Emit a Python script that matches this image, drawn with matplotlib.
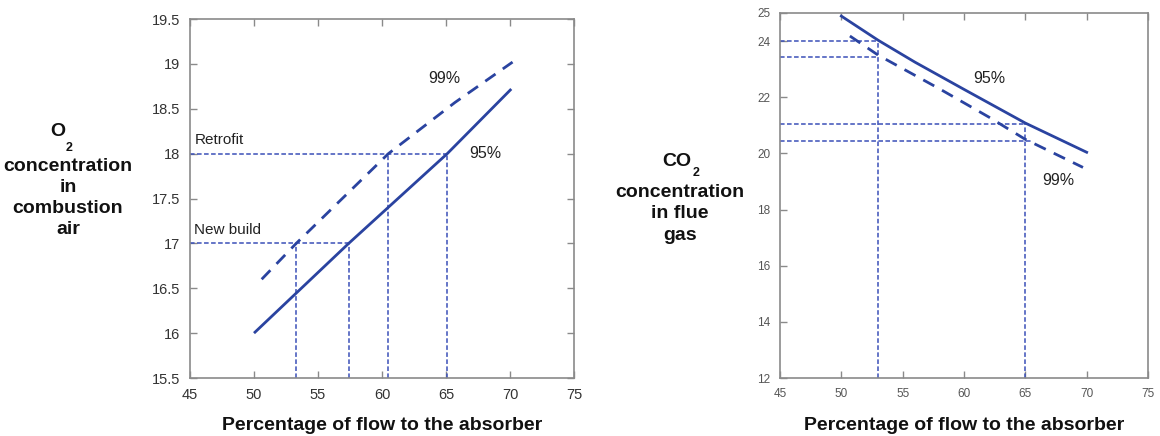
import matplotlib.pyplot as plt

plt.rcParams['font.family'] = ['Liberation Sans', 'DejaVu Sans']

# ---- data ----
# left: O2 concentration in combustion air
o2_x95 = [50.0, 57.4, 65.1, 70.1]
o2_y95 = [16.0, 17.0, 18.0, 18.72]
o2_x99 = [50.6, 53.3, 60.5, 65.7, 70.2]
o2_y99 = [16.6, 17.0, 18.0, 18.57, 19.02]
o2_levels = [18.0, 17.0]            # Retrofit, New build
o2_level_names = ['Retrofit', 'New build']
o2_cross_99 = [60.5, 53.3]
o2_cross_95 = [65.1, 57.4]

# right: CO2 concentration in flue gas
co2_x95 = [50.0, 53.0, 56.0, 60.0, 65.0, 70.0]
co2_y95 = [24.89, 24.03, 23.25, 22.28, 21.08, 20.04]
co2_x99 = [50.7, 53.0, 58.0, 62.0, 65.0, 69.7]
co2_y99 = [24.18, 23.5, 22.3, 21.3, 20.5, 19.5]
co2_marks_x = [53.0, 65.0]
co2_marks_95 = [24.0, 21.05]
co2_marks_99 = [23.45, 20.45]
co2_h_end_99 = [53.0, 65.5]

xticks = [45, 50, 55, 60, 65, 70, 75]
o2_yticks = [15.5, 16, 16.5, 17, 17.5, 18, 18.5, 19, 19.5]
o2_yticklabels = ['15.5', '16', '16.5', '17', '17.5', '18', '18.5', '19', '19.5']
co2_yticks = [12, 14, 16, 18, 20, 22, 24, 25]

blue = '#2a43a0'
ref_blue = '#3a4fb8'
spine_c = '#8a8a8a'

W, H = 1160, 436
fig = plt.figure(figsize=(W / 100, H / 100), dpi=100)


def px(x0, y0, x1, y1):
    return [x0 / W, 1 - y1 / H, (x1 - x0) / W, (y1 - y0) / H]


def style_axes(ax, lab_size, lab_color, pad, right_ticks=True):
    for s in ax.spines.values():
        s.set_color(spine_c)
        s.set_linewidth(1.2)
    ax.tick_params(direction='in', length=5, width=1, color=spine_c,
                   top=True, right=right_ticks, labelsize=lab_size,
                   labelcolor=lab_color, pad=pad)


# ================= left panel =================
ax1 = fig.add_axes(px(190, 19, 574, 378))
ax1.set_xlim(45, 75)
ax1.set_ylim(15.5, 19.5)
ax1.set_xticks(xticks)
ax1.set_yticks(o2_yticks)
ax1.set_yticklabels(o2_yticklabels)
style_axes(ax1, 10.5, '#333333', 7)

ref_kw = dict(color=ref_blue, lw=1.1, ls=(0, (3, 1.6)))
for lev, x99, x95 in zip(o2_levels, o2_cross_99, o2_cross_95):
    ax1.plot([45, x95], [lev, lev], **ref_kw)
    ax1.plot([x99, x99], [15.5, lev], **ref_kw)
    ax1.plot([x95, x95], [15.5, lev], **ref_kw)

ax1.plot(o2_x95, o2_y95, color=blue, lw=2.0, solid_capstyle='butt')
ax1.plot(o2_x99, o2_y99, color=blue, lw=2.0, ls=(0, (4.5, 3.2)))

ax1.text(45.35, 18.15, o2_level_names[0], fontsize=11, color='#222222', va='center')
ax1.text(45.35, 17.15, o2_level_names[1], fontsize=11, color='#222222', va='center')
ax1.text(64.9, 18.84, '99%', fontsize=11.5, color='#222222', ha='center', va='center')
ax1.text(68.1, 18.0, '95%', fontsize=11.5, color='#222222', ha='center', va='center')

# ================= right panel =================
ax2 = fig.add_axes(px(780, 13, 1148, 378))
ax2.set_xlim(45, 75)
ax2.set_ylim(12, 25)
ax2.set_xticks(xticks)
ax2.set_yticks(co2_yticks)
style_axes(ax2, 8.5, '#555555', 7, right_ticks=False)

for xm, y95, y99, xe in zip(co2_marks_x, co2_marks_95, co2_marks_99, co2_h_end_99):
    ax2.plot([45, xm], [y95, y95], **ref_kw)
    ax2.plot([45, xe], [y99, y99], **ref_kw)
    ax2.plot([xm, xm], [12, y95], **ref_kw)

ax2.plot(co2_x95, co2_y95, color=blue, lw=2.0)
ax2.plot(co2_x99, co2_y99, color=blue, lw=2.0, ls=(0, (4.5, 3.2)))

ax2.text(62.1, 22.65, '95%', fontsize=11.5, color='#222222', ha='center', va='center')
ax2.text(67.65, 19.05, '99%', fontsize=11.5, color='#222222', ha='center', va='center')

# ================= axis titles =================
bold = dict(fontsize=14, fontweight='bold', color='#111111', ha='center', va='center')
for xc in (382, 964):
    fig.text(xc / W, 1 - 425 / H, 'Percentage of flow to the absorber', **bold)

# left y title
fig.text(58 / W, 1 - 131 / H, 'O', **bold)
fig.text(69 / W, 1 - 148 / H, '2', fontsize=9, fontweight='bold', color='#111111',
         ha='center', va='center')
for i, line in enumerate(['concentration', 'in', 'combustion', 'air']):
    fig.text(68 / W, 1 - (166 + 21 * i) / H, line, **bold)

# right y title
fig.text(677 / W, 1 - 161 / H, 'CO', **bold)
fig.text(696 / W, 1 - 173 / H, '2', fontsize=9, fontweight='bold', color='#111111',
         ha='center', va='center')
for i, line in enumerate(['concentration', 'in flue', 'gas']):
    fig.text(680 / W, 1 - (192 + 21.5 * i) / H, line, **bold)

fig.savefig('out.png', dpi=100, facecolor='white')
